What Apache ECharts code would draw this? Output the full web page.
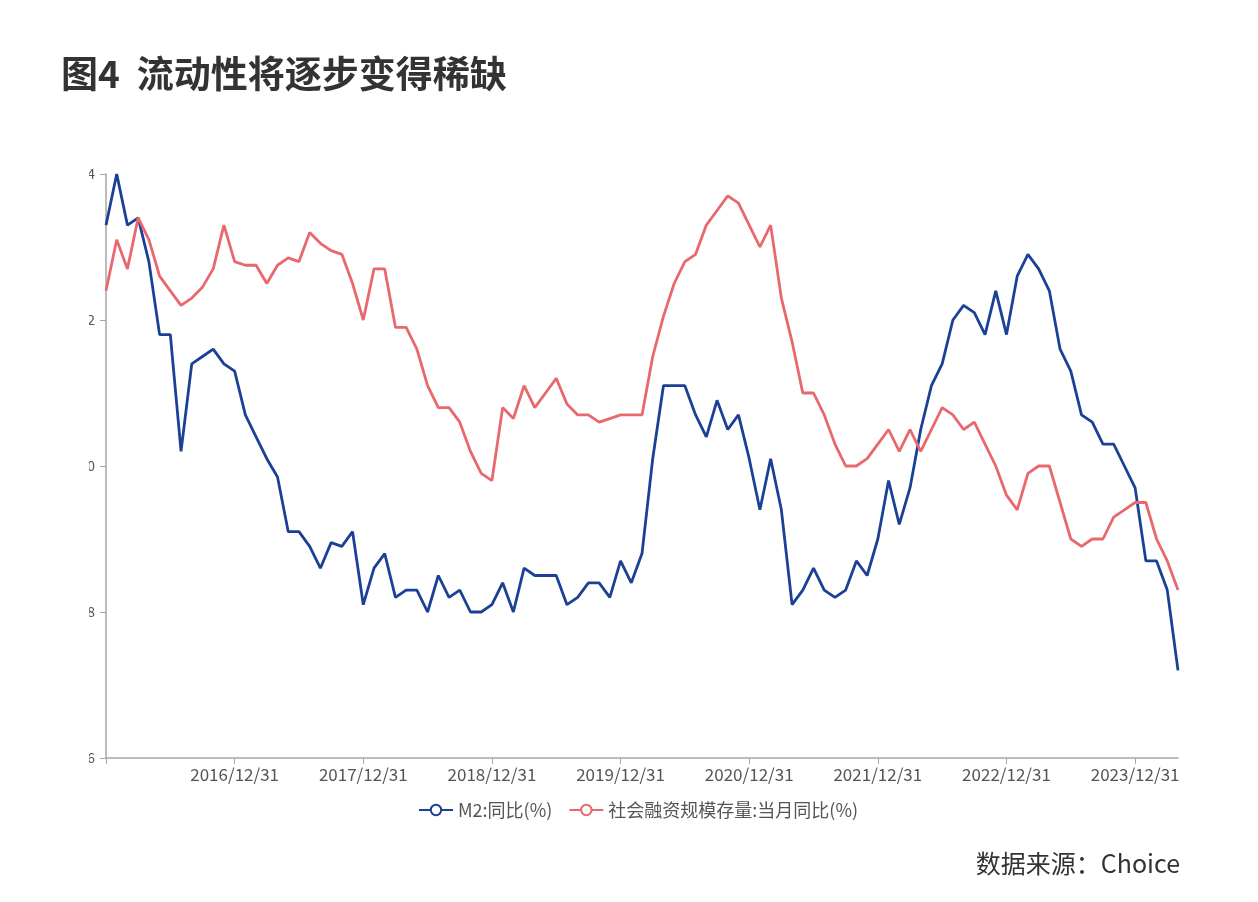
<!DOCTYPE html>
<html>
<head>
<meta charset="utf-8">
<script src="https://cdn.jsdelivr.net/npm/echarts@6/dist/echarts.min.js"></script>
<style>
  html, body { margin: 0; padding: 0; background: #fff; }
  #main { width: 1258px; height: 902px; }
</style>
</head>
<body>
<div id="main"></div>
<script>
// month-end dates, 2015/12 .. 2024/04
const startYear = 2015, startMonth = 11, monthCount = 101;
const dates = [];
for (let k = 0; k < monthCount; k++) {
  const y = startYear + Math.floor((startMonth + k) / 12);
  const m = (startMonth + k) % 12;
  const d = new Date(y, m + 1, 0).getDate();
  dates.push(y + "/" + String(m + 1).padStart(2, "0") + "/" + d);
}

const seriesNames = ["M2:同比(%)", "社会融资规模存量:当月同比(%)"];

const m2 = [
  13.3, 14.0, 13.3, 13.4, 12.8, 11.8, 11.8, 10.2, 11.4, 11.5, 11.6, 11.4, 11.3,
  10.7, 10.4, 10.1, 9.85, 9.1, 9.1, 8.9, 8.6, 8.95, 8.9, 9.1, 8.1,
  8.6, 8.8, 8.2, 8.3, 8.3, 8.0, 8.5, 8.2, 8.3, 8.0, 8.0, 8.1,
  8.4, 8.0, 8.6, 8.5, 8.5, 8.5, 8.1, 8.2, 8.4, 8.4, 8.2, 8.7,
  8.4, 8.8, 10.1, 11.1, 11.1, 11.1, 10.7, 10.4, 10.9, 10.5, 10.7, 10.1,
  9.4, 10.1, 9.4, 8.1, 8.3, 8.6, 8.3, 8.2, 8.3, 8.7, 8.5, 9.0,
  9.8, 9.2, 9.7, 10.5, 11.1, 11.4, 12.0, 12.2, 12.1, 11.8, 12.4, 11.8,
  12.6, 12.9, 12.7, 12.4, 11.6, 11.3, 10.7, 10.6, 10.3, 10.3, 10.0, 9.7,
  8.7, 8.7, 8.3, 7.2
];

const tsf = [
  12.4, 13.1, 12.7, 13.4, 13.1, 12.6, 12.4, 12.2, 12.3, 12.45, 12.7, 13.3, 12.8,
  12.75, 12.75, 12.5, 12.75, 12.85, 12.8, 13.2, 13.05, 12.95, 12.9, 12.5, 12.0,
  12.7, 12.7, 11.9, 11.9, 11.6, 11.1, 10.8, 10.8, 10.6, 10.2, 9.9, 9.8,
  10.8, 10.65, 11.1, 10.8, 11.0, 11.2, 10.85, 10.7, 10.7, 10.6, 10.65, 10.7,
  10.7, 10.7, 11.5, 12.05, 12.5, 12.8, 12.9, 13.3, 13.5, 13.7, 13.6, 13.3,
  13.0, 13.3, 12.3, 11.7, 11.0, 11.0, 10.7, 10.3, 10.0, 10.0, 10.1, 10.3,
  10.5, 10.2, 10.5, 10.2, 10.5, 10.8, 10.7, 10.5, 10.6, 10.3, 10.0, 9.6,
  9.4, 9.9, 10.0, 10.0, 9.5, 9.0, 8.9, 9.0, 9.0, 9.3, 9.4, 9.5,
  9.5, 9.0, 8.7, 8.3
];

const font = "'Noto Sans CJK SC', 'Noto Sans', sans-serif";
const axisGray = "#a6a6a6";

const chart = echarts.init(document.getElementById("main"));
chart.setOption({
  animation: false,
  backgroundColor: "#fff",
  textStyle: { fontFamily: font },
  title: [
    {
      text: "图4  流动性将逐步变得稀缺",
      left: 61,
      top: 55,
      padding: 0,
      textStyle: { fontSize: 37, fontWeight: "bold", color: "#333", fontFamily: font },
    },
    {
      text: "数据来源：Choice",
      right: 78,
      top: 851,
      padding: 0,
      textStyle: { fontSize: 25, fontWeight: "normal", color: "#333", fontFamily: font },
    },
  ],
  legend: {
    left: 418,
    top: 801,
    padding: 0,
    itemWidth: 34,
    itemHeight: 13,
    itemGap: 16,
    textStyle: { fontSize: 18, color: "#555", fontFamily: font },
    data: seriesNames,
  },
  grid: { left: 106, right: 80, top: 174, bottom: 144 },
  xAxis: {
    type: "category",
    boundaryGap: false,
    data: dates,
    axisLine: { lineStyle: { color: axisGray, width: 1.5 } },
    axisTick: { interval: (i) => i % 12 === 0, length: 6, lineStyle: { color: axisGray } },
    axisLabel: {
      interval: (i) => i % 12 === 0 && i > 0,
      margin: 8,
      fontSize: 17,
      color: "#555",
      fontFamily: font,
    },
    splitLine: { show: false },
  },
  yAxis: {
    type: "value",
    min: 6,
    max: 14,
    interval: 2,
    axisLine: { show: true, lineStyle: { color: axisGray, width: 1.5 } },
    axisTick: { show: true, length: 6, lineStyle: { color: axisGray } },
    axisLabel: { margin: 11, fontSize: 14, color: "#555", fontFamily: font },
    splitLine: { show: false },
  },
  // the source image has the y labels cut at the left
  graphic: [
    { type: "rect", left: 0, top: 150, z: 100, shape: { width: 89, height: 630 }, style: { fill: "#fff" } },
  ],
  series: [
    {
      name: seriesNames[0],
      type: "line",
      data: m2,
      symbol: "emptyCircle",
      symbolSize: 10,
      showSymbol: false,
      color: "#1a4196",
      lineStyle: { width: 2.8, color: "#1a4196" },
    },
    {
      name: seriesNames[1],
      type: "line",
      data: tsf,
      symbol: "emptyCircle",
      symbolSize: 10,
      showSymbol: false,
      color: "#e8686e",
      lineStyle: { width: 2.8, color: "#e8686e" },
    },
  ],
});
</script>
</body>
</html>
